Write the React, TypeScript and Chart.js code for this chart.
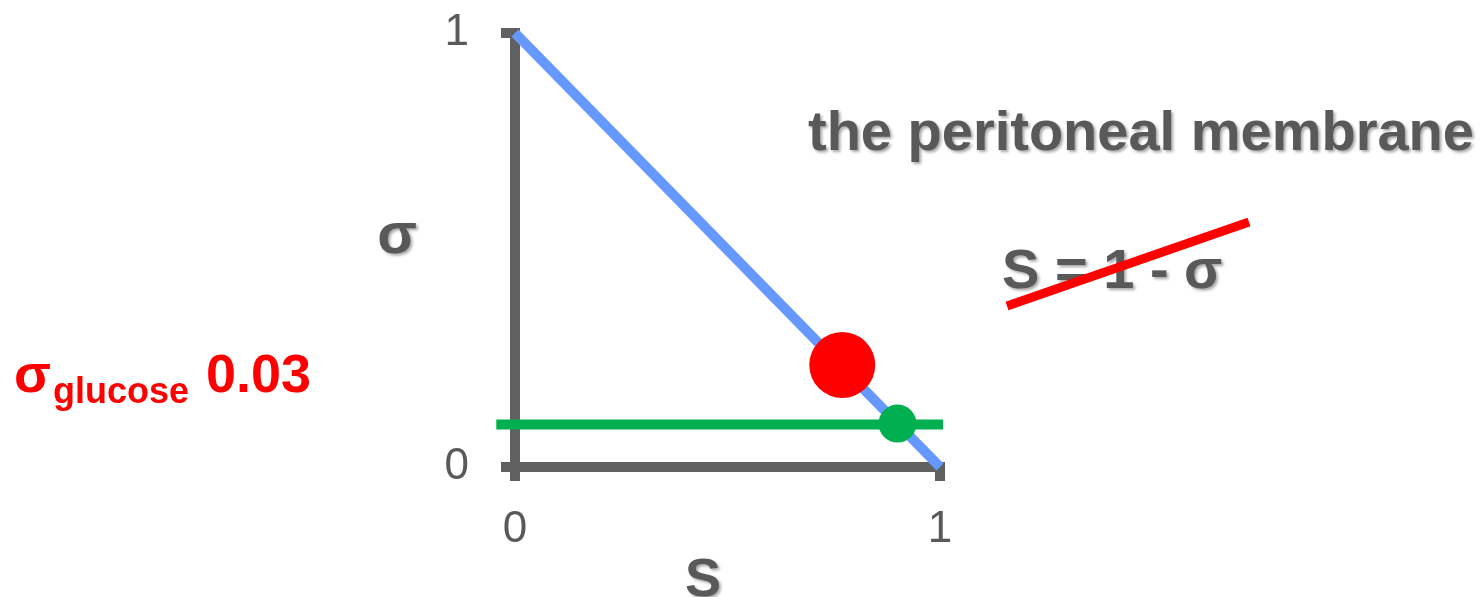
import { useEffect, useRef } from "react";
import { Chart, registerables } from "chart.js";

Chart.register(...registerables);

// ---- data ----
const xTickValues = [0, 1];
const yTickValues = [0, 1];
const boundaryS = [0, 1];
const boundarySigma = [1, 0];
const glucoseS = [0.77];
const glucoseSigma = [0.235];
const smallSoluteS = [0.9];
const smallSoluteSigma = [0.1];
const reflectionLineS = [-0.044, 1.007];
const reflectionLineSigma = [0.098, 0.098];

const titleText = "the peritoneal membrane";
const formulaText = "S = 1 - σ";
const glucoseSymbol = "σ";
const glucoseSub = "glucose";
const glucoseValue = "0.03";
const xAxisTitle = "S";
const yAxisTitle = "σ";

const FONT = "'Liberation Sans', Arial, Helvetica, sans-serif";
const GRAY_TEXT = "#595959";
const GRAY_AXIS = "#606060";
const BLUE = "#6699FF";
const GREEN = "#00B050";
const RED = "#FF0000";

const zip = (xs: number[], ys: number[]) => xs.map((x, i) => ({ x, y: ys[i] }));

const annotationPlugin = {
  id: "annotations",
  afterDraw(chart: any) {
    const ctx = chart.ctx as CanvasRenderingContext2D;
    ctx.save();
    ctx.textBaseline = "alphabetic";

    // gray text with soft shadow
    ctx.shadowColor = "rgba(0,0,0,0.35)";
    ctx.shadowOffsetX = 2;
    ctx.shadowOffsetY = 2;
    ctx.shadowBlur = 3;
    ctx.fillStyle = GRAY_TEXT;

    ctx.font = `bold 56px ${FONT}`;
    ctx.textAlign = "left";
    ctx.fillText(titleText, 808, 150);
    ctx.fillText(formulaText, 1002, 288);

    ctx.textAlign = "center";
    ctx.font = `bold 58px ${FONT}`;
    ctx.fillText(yAxisTitle, 397, 253);
    ctx.font = `bold 54px ${FONT}`;
    ctx.fillText(xAxisTitle, 703, 596);

    // no shadow for the rest
    ctx.shadowColor = "rgba(0,0,0,0)";
    ctx.shadowOffsetX = 0;
    ctx.shadowOffsetY = 0;
    ctx.shadowBlur = 0;

    // strike-through of the formula
    ctx.strokeStyle = RED;
    ctx.lineWidth = 9;
    ctx.lineCap = "butt";
    ctx.beginPath();
    ctx.moveTo(1007, 306);
    ctx.lineTo(1249, 222);
    ctx.stroke();

    // sigma glucose label
    ctx.fillStyle = RED;
    ctx.textAlign = "left";
    ctx.font = `bold 54px ${FONT}`;
    ctx.fillText(glucoseSymbol, 14, 392);
    ctx.font = `bold 36px ${FONT}`;
    ctx.fillText(glucoseSub, 53, 403);
    ctx.font = `bold 54px ${FONT}`;
    ctx.fillText(glucoseValue, 206, 392);

    ctx.restore();
  },
};

export default function App() {
  const canvasRef = useRef<HTMLCanvasElement | null>(null);

  useEffect(() => {
    const canvas = canvasRef.current;
    if (!canvas) return;

    const tickFont = { family: FONT, size: 44 };
    const gridOpts = {
      display: true,
      drawOnChartArea: false,
      drawTicks: true,
      tickLength: 14,
      tickWidth: 10,
      lineWidth: 10,
      tickColor: GRAY_AXIS,
      color: GRAY_AXIS,
    };

    const chart = new Chart(canvas, {
      type: "scatter",
      data: {
        datasets: [
          {
            label: "small solute",
            data: zip(smallSoluteS, smallSoluteSigma),
            pointRadius: 19,
            pointHoverRadius: 19,
            backgroundColor: GREEN,
            borderWidth: 0,
            order: 0,
            clip: false as any,
          },
          {
            label: "reflection line",
            data: zip(reflectionLineS, reflectionLineSigma),
            showLine: true,
            borderColor: GREEN,
            borderWidth: 10,
            pointRadius: 0,
            borderCapStyle: "butt",
            order: 1,
            clip: false as any,
          },
          {
            label: "glucose",
            data: zip(glucoseS, glucoseSigma),
            pointRadius: 33,
            pointHoverRadius: 33,
            backgroundColor: RED,
            borderWidth: 0,
            order: 2,
            clip: false as any,
          },
          {
            label: "S = 1 - sigma",
            data: zip(boundaryS, boundarySigma),
            showLine: true,
            borderColor: BLUE,
            borderWidth: 10,
            pointRadius: 0,
            borderCapStyle: "butt",
            order: 3,
            clip: false as any,
          },
        ],
      },
      options: {
        animation: false,
        responsive: false,
        events: [],
        layout: { padding: { top: 27, right: 544, left: 0, bottom: 0 } },
        plugins: {
          legend: { display: false },
          tooltip: { enabled: false },
        },
        scales: {
          x: {
            type: "linear",
            position: "bottom",
            min: 0,
            max: 1,
            afterBuildTicks: (axis: any) => {
              axis.ticks = xTickValues.map((v) => ({ value: v }));
            },
            afterFit: (axis: any) => {
              axis.height = 130;
              axis.paddingLeft = 0;
              axis.paddingRight = 0;
            },
            ticks: {
              font: tickFont,
              color: GRAY_TEXT,
              padding: 22,
              maxRotation: 0,
              autoSkip: false,
              callback: (v: any) => String(v),
            },
            grid: gridOpts,
            border: { display: true, color: GRAY_AXIS, width: 10 },
          },
          y: {
            type: "linear",
            position: "left",
            min: 0,
            max: 1,
            afterBuildTicks: (axis: any) => {
              axis.ticks = yTickValues.map((v) => ({ value: v }));
            },
            afterFit: (axis: any) => {
              axis.width = 515;
              axis.paddingTop = 0;
              axis.paddingBottom = 0;
            },
            ticks: {
              font: tickFont,
              color: GRAY_TEXT,
              padding: 32,
              autoSkip: false,
              callback: (v: any) => String(v),
            },
            grid: gridOpts,
            border: { display: true, color: GRAY_AXIS, width: 10 },
          },
        },
      } as any,
      plugins: [annotationPlugin],
    });

    return () => chart.destroy();
  }, []);

  return (
    <div
      style={{
        position: "absolute",
        left: 0,
        top: 0,
        width: 1484,
        height: 597,
        background: "#ffffff",
      }}
    >
      <canvas ref={canvasRef} width={1484} height={597} style={{ display: "block" }} />
    </div>
  );
}
